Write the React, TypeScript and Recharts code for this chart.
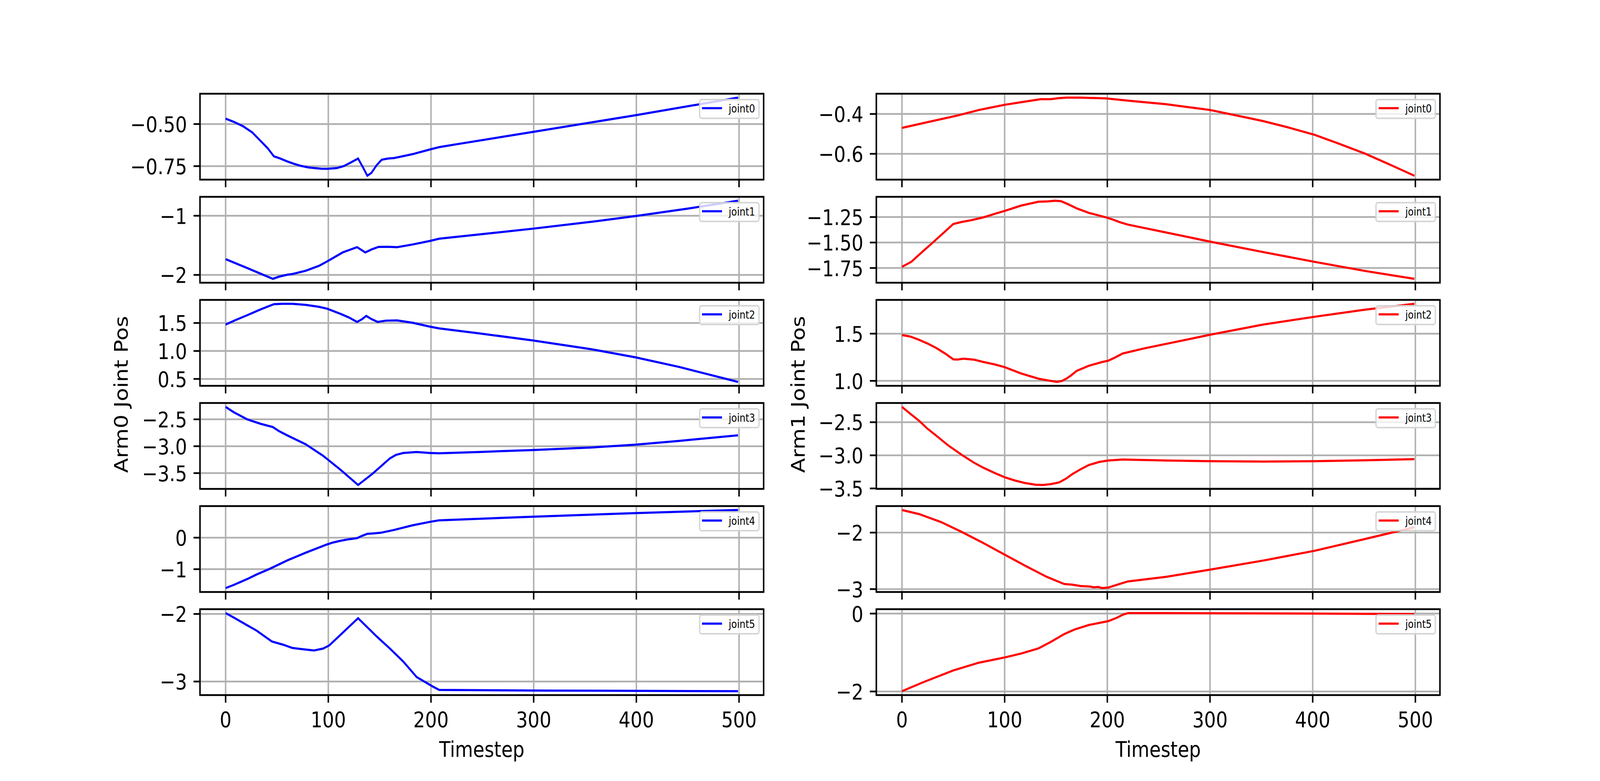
import React from 'react';
import { LineChart, Line, XAxis, YAxis, CartesianGrid, ReferenceArea } from 'recharts';

// ---------------- data (timestep, joint position) ----------------
const arm0Joint0: [number, number][] = [[0,-0.468],[8,-0.487],[17,-0.513],[26,-0.55],[34,-0.6],[41,-0.644],[47,-0.692],[52,-0.702],[60,-0.722],[67,-0.737],[73,-0.748],[80,-0.757],[86,-0.761],[93,-0.765],[99,-0.766],[108,-0.762],[115,-0.75],[122,-0.728],[129,-0.705],[134,-0.76],[138,-0.807],[142,-0.79],[147,-0.745],[152,-0.712],[158,-0.705],[164,-0.702],[182,-0.679],[199,-0.651],[208,-0.637],[225,-0.62],[300,-0.546],[400,-0.447],[499,-0.343]];
const arm0Joint1: [number, number][] = [[0,-1.733],[21,-1.884],[46,-2.066],[52,-2.03],[60,-1.997],[65,-1.985],[78,-1.93],[91,-1.846],[99,-1.771],[114,-1.62],[128,-1.531],[136,-1.62],[142,-1.57],[149,-1.526],[158,-1.525],[167,-1.531],[182,-1.486],[199,-1.426],[208,-1.388],[250,-1.31],[300,-1.217],[356,-1.103],[400,-1.003],[450,-0.88],[499,-0.746]];
const arm0Joint2: [number, number][] = [[0,1.472],[10,1.555],[21,1.639],[34,1.743],[47,1.836],[55,1.843],[65,1.843],[78,1.824],[91,1.789],[99,1.755],[112,1.662],[120,1.6],[128,1.519],[133,1.57],[137,1.627],[142,1.57],[148,1.519],[156,1.542],[167,1.546],[182,1.505],[199,1.435],[208,1.403],[247,1.315],[299,1.188],[356,1.032],[399,0.887],[442,0.713],[464,0.61],[499,0.447]];
const arm0Joint3: [number, number][] = [[0,-2.269],[8,-2.369],[21,-2.5],[34,-2.583],[46,-2.643],[52,-2.72],[60,-2.798],[78,-2.964],[95,-3.179],[112,-3.44],[129,-3.721],[143,-3.512],[160,-3.226],[166,-3.16],[173,-3.126],[186,-3.107],[199,-3.126],[208,-3.131],[247,-3.107],[299,-3.071],[356,-3.024],[399,-2.971],[442,-2.9],[499,-2.798]];
const arm0Joint4: [number, number][] = [[0,-1.6],[8,-1.498],[21,-1.314],[30,-1.171],[43,-0.988],[60,-0.722],[78,-0.478],[99,-0.212],[105,-0.15],[112,-0.098],[120,-0.05],[128,-0.016],[133,0.06],[138,0.122],[144,0.135],[151,0.155],[164,0.245],[182,0.392],[199,0.502],[208,0.551],[299,0.665],[399,0.78],[499,0.878]];
const arm0Joint5: [number, number][] = [[0,-1.987],[8,-2.054],[21,-2.168],[30,-2.245],[45,-2.407],[56,-2.455],[65,-2.503],[75,-2.522],[86,-2.541],[95,-2.512],[101,-2.465],[129,-2.063],[147,-2.331],[160,-2.512],[173,-2.704],[186,-2.933],[202,-3.076],[208,-3.124],[312,-3.134],[499,-3.143]];

const arm1Joint0: [number, number][] = [[0,-0.47],[25,-0.441],[54,-0.408],[75,-0.38],[100,-0.354],[116,-0.341],[135,-0.326],[145,-0.326],[152,-0.321],[160,-0.318],[174,-0.318],[199,-0.322],[224,-0.335],[257,-0.351],[300,-0.38],[340,-0.423],[352,-0.436],[375,-0.466],[402,-0.505],[426,-0.55],[451,-0.599],[476,-0.656],[499,-0.71]];
const arm1Joint1: [number, number][] = [[0,-1.738],[9,-1.69],[20,-1.59],[29,-1.51],[40,-1.41],[50,-1.318],[58,-1.299],[68,-1.28],[79,-1.254],[90,-1.22],[100,-1.19],[116,-1.138],[133,-1.1],[142,-1.097],[149,-1.09],[155,-1.095],[162,-1.125],[170,-1.164],[182,-1.209],[199,-1.254],[205,-1.273],[212,-1.3],[220,-1.324],[257,-1.401],[300,-1.491],[352,-1.594],[402,-1.69],[451,-1.779],[499,-1.856]];
const arm1Joint2: [number, number][] = [[0,1.485],[8,1.47],[17,1.433],[25,1.395],[33,1.351],[42,1.29],[50,1.228],[54,1.226],[60,1.235],[70,1.225],[79,1.201],[90,1.175],[100,1.146],[116,1.078],[133,1.023],[142,1.005],[151,0.989],[156,1.0],[160,1.023],[165,1.06],[170,1.105],[182,1.16],[195,1.2],[201,1.214],[208,1.25],[215,1.29],[236,1.344],[300,1.488],[352,1.597],[402,1.679],[451,1.754],[499,1.816]];
const arm1Joint3: [number, number][] = [[0,-2.269],[8,-2.37],[17,-2.483],[25,-2.6],[33,-2.698],[45,-2.85],[58,-2.99],[70,-3.11],[79,-3.185],[90,-3.265],[100,-3.331],[110,-3.38],[120,-3.419],[130,-3.443],[137,-3.448],[145,-3.435],[153,-3.409],[160,-3.35],[166,-3.283],[174,-3.21],[182,-3.146],[192,-3.1],[201,-3.078],[215,-3.064],[257,-3.078],[300,-3.088],[352,-3.094],[402,-3.088],[450,-3.075],[499,-3.058]];
const arm1Joint4: [number, number][] = [[0,-1.6],[17,-1.674],[38,-1.813],[58,-1.986],[79,-2.182],[100,-2.39],[120,-2.587],[141,-2.783],[158,-2.91],[166,-2.921],[174,-2.945],[183,-2.955],[187,-2.968],[191,-2.961],[195,-2.982],[201,-2.972],[209,-2.926],[220,-2.864],[257,-2.783],[300,-2.656],[352,-2.494],[402,-2.321],[451,-2.113],[499,-1.905]];
const arm1Joint5: [number, number][] = [[0,-1.993],[21,-1.76],[50,-1.46],[75,-1.26],[100,-1.127],[116,-1.027],[133,-0.893],[145,-0.727],[158,-0.527],[168,-0.41],[182,-0.293],[201,-0.193],[209,-0.11],[215,-0.03],[220,0.013],[257,0.013],[402,0.0],[499,-0.013]];

// ---------------- ticks ----------------
const xTicks = [0, 100, 200, 300, 400, 500];
const arm0YTicks = [[-0.75, -0.5], [-2, -1], [0.5, 1.0, 1.5], [-3.5, -3.0, -2.5], [-1, 0], [-3, -2]];
const arm0YDecimals = [2, 0, 1, 1, 0, 0];
const arm1YTicks = [[-0.6, -0.4], [-1.75, -1.5, -1.25], [1.0, 1.5], [-3.5, -3.0, -2.5], [-3, -2], [-2, 0]];
const arm1YDecimals = [1, 2, 1, 1, 0, 0];
const jointNames = ['joint0', 'joint1', 'joint2', 'joint3', 'joint4', 'joint5'];
const arm0Series = [arm0Joint0, arm0Joint1, arm0Joint2, arm0Joint3, arm0Joint4, arm0Joint5];
const arm1Series = [arm1Joint0, arm1Joint1, arm1Joint2, arm1Joint3, arm1Joint4, arm1Joint5];
const columnLabels = ['Arm0 Joint Pos', 'Arm1 Joint Pos'];
const columnColors = ['#0000ff', '#ff0000'];

// ---------------- layout (matplotlib-like, 400 dpi) ----------------
const PT = 400 / 72;
const FONT = '"DejaVu Sans", Verdana, sans-serif';
const TICK_FS = 10 * PT;
const LEG_FS = 28;
const LW = 0.8 * PT;
const TICK_LEN = 3.5 * PT;
const PAD = 3.5 * PT;
const FIG_W = 4800;
const FIG_H = 2000;
const AX_W = 1690.91;
const AX_LEFT = [600, 2629.09];
const AX_TOP0 = 240;
const AX_H = 220;
const AX_STEP = 264;
const X_DOMAIN: [number, number] = [-24.95, 523.95];
const YW = 400;
const MT = 30;
const MR = 60;
const XH = 200;

const fmt = (v: number, d: number) => {
  const s = Math.abs(v).toFixed(d);
  return (v < 0 ? '\u2212' : '') + s;
};

function Subplot({ row, col, series, name, color, ticks, decimals, showXLabels }: any) {
  const left = AX_LEFT[col] - YW;
  const top = AX_TOP0 + row * AX_STEP - MT;
  const width = YW + AX_W + MR;
  const height = MT + AX_H + XH;
  const data = series.map(([t, v]: [number, number]) => ({ t, v }));
  const vals = series.map((d: [number, number]) => d[1]);
  const lo = Math.min(...vals);
  const hi = Math.max(...vals);
  const m = (hi - lo) * 0.05;
  const domain: [number, number] = [lo - m, hi + m];

  const xTick = (p: any) =>
    showXLabels ? (
      <text x={p.x} y={p.y + 43} textAnchor="middle" fontFamily={FONT} fontSize={TICK_FS} fill="#000">
        {String(p.payload.value)}
      </text>
    ) : (
      <g />
    );
  const yTick = (p: any) => (
    <text x={p.x} y={p.y + 0.364 * TICK_FS} textAnchor="end" fontFamily={FONT} fontSize={TICK_FS} fill="#000">
      {fmt(p.payload.value, decimals)}
    </text>
  );

  const legW = 182;
  const legH = 52;
  return (
    <div style={{ position: 'absolute', left, top, width, height }}>
      <LineChart width={width} height={height} data={data} margin={{ top: MT, right: MR, bottom: 0, left: 0 }}>
        <CartesianGrid stroke="#b0b0b0" strokeWidth={LW} fill="#ffffff" fillOpacity={1} />
        <XAxis
          type="number"
          dataKey="t"
          domain={X_DOMAIN}
          ticks={xTicks}
          interval={0}
          allowDataOverflow
          height={XH}
          axisLine={false}
          tickLine={{ stroke: '#000', strokeWidth: LW }}
          tickSize={TICK_LEN}
          tickMargin={PAD}
          tick={xTick}
        />
        <YAxis
          type="number"
          domain={domain}
          ticks={ticks}
          interval={0}
          allowDataOverflow
          width={YW}
          axisLine={false}
          tickLine={{ stroke: '#000', strokeWidth: LW }}
          tickSize={TICK_LEN}
          tickMargin={PAD}
          tick={yTick}
        />
        <Line
          type="linear"
          dataKey="v"
          name={name}
          stroke={color}
          strokeWidth={5.5}
          dot={false}
          activeDot={false}
          isAnimationActive={false}
        />
        <ReferenceArea
          x1={X_DOMAIN[0]}
          x2={X_DOMAIN[1]}
          y1={domain[0]}
          y2={domain[1]}
          fill="none"
          fillOpacity={0}
          stroke="#000"
          strokeWidth={LW}
          ifOverflow="visible"
        />
      </LineChart>
      <div
        style={{
          position: 'absolute',
          left: YW + AX_W - 12 - legW,
          top: MT + 13,
          width: legW,
          height: legH,
          boxSizing: 'border-box',
          border: `${LW}px solid rgba(204,204,204,0.8)`,
          borderRadius: 8,
          background: 'rgba(255,255,255,0.8)',
        }}
      >
        <svg width={legW} height={legH} style={{ position: 'absolute', left: -LW, top: -LW, overflow: 'visible' }}>
          <line x1={10} x2={70} y1={24} y2={24} stroke={color} strokeWidth={5.5} />
          <text x={90} y={35} fontFamily={FONT} fontSize={LEG_FS} fill="#000">{name}</text>
        </svg>
      </div>
    </div>
  );
}

// The browser may give a viewport smaller than 4800x2000; fit the figure to it.
const viewW = typeof window !== 'undefined' && window.innerWidth ? window.innerWidth : FIG_W;
const viewH = typeof window !== 'undefined' && window.innerHeight ? window.innerHeight : FIG_H;
const scaleX = viewW < FIG_W ? viewW / FIG_W : 1;
const scaleY = viewH < FIG_H ? viewH / FIG_H : 1;

export default function App() {
  const cols = [arm0Series, arm1Series];
  const tickSets = [arm0YTicks, arm1YTicks];
  const decSets = [arm0YDecimals, arm1YDecimals];
  const plots: any[] = [];
  for (let row = 0; row < 6; row++) {
    for (let col = 0; col < 2; col++) {
      plots.push(
        <Subplot
          key={`${row}-${col}`}
          row={row}
          col={col}
          series={cols[col][row]}
          name={jointNames[row]}
          color={columnColors[col]}
          ticks={tickSets[col][row]}
          decimals={decSets[col][row]}
          showXLabels={row === 5}
        />
      );
    }
  }
  const yLabelX = [383, 2414];
  const yMid = (AX_TOP0 + AX_TOP0 + 5 * AX_STEP + AX_H) / 2;
  return (
    <div style={{ position: 'absolute', left: 0, top: 0, width: FIG_W * scaleX, height: FIG_H * scaleY, overflow: 'hidden', background: '#fff' }}>
      <div
        style={{
          position: 'absolute',
          left: 0,
          top: 0,
          width: FIG_W,
          height: FIG_H,
          background: '#fff',
          transform: `scale(${scaleX}, ${scaleY})`,
          transformOrigin: '0 0',
        }}
      >
        {plots}
        <svg width={FIG_W} height={FIG_H} style={{ position: 'absolute', left: 0, top: 0, pointerEvents: 'none' }}>
          {[0, 1].map((c) => (
            <g key={c}>
              <text
                transform={`translate(${yLabelX[c]},${yMid}) rotate(-90)`}
                textAnchor="middle"
                fontFamily={FONT}
                fontSize={TICK_FS}
                fill="#000"
              >
                {columnLabels[c]}
              </text>
              <text x={AX_LEFT[c] + AX_W / 2} y={1938} textAnchor="middle" fontFamily={FONT} fontSize={TICK_FS} fill="#000">
                Timestep
              </text>
            </g>
          ))}
        </svg>
      </div>
    </div>
  );
}
